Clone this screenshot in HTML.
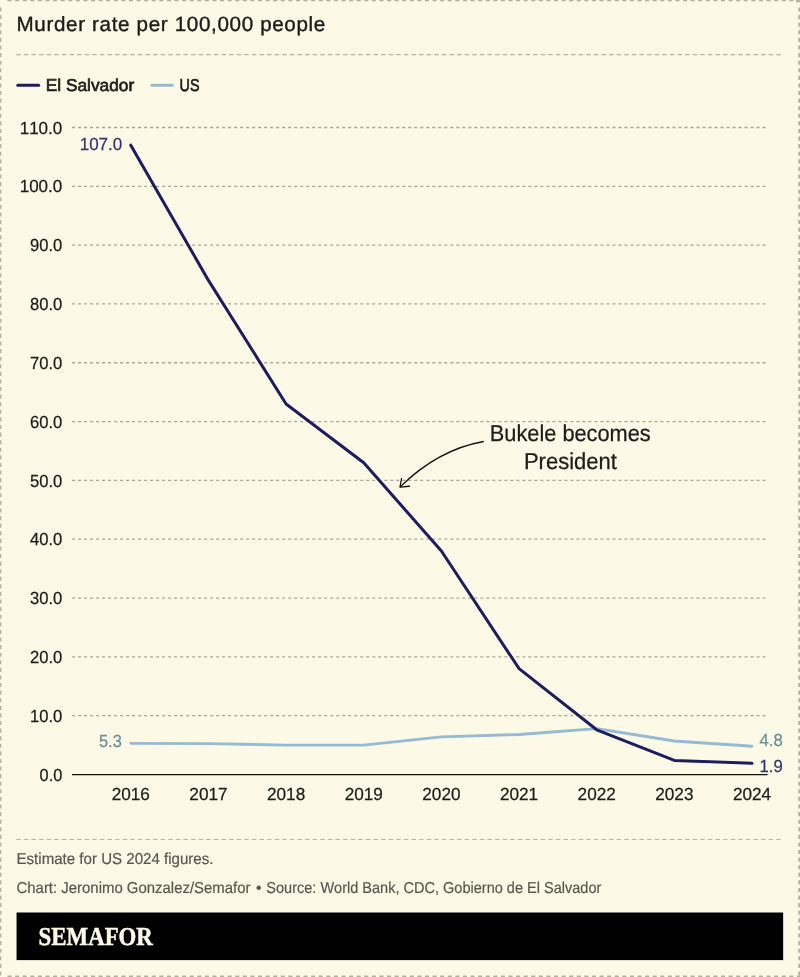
<!DOCTYPE html>
<html lang="en"><head><meta charset="utf-8"><title>Murder rate per 100,000 people</title>
<style>
html,body{margin:0;padding:0;background:#fcfae6;}
body{width:800px;height:977px;overflow:hidden;}
svg{display:block;}
text{font-family:"Liberation Sans",sans-serif;fill:#1c1c1a;font-kerning:none;text-rendering:geometricPrecision;}
.title{font-size:20.6px;letter-spacing:0.66px;stroke:#1c1c1a;stroke-width:0.4px;}
.tick{font-size:17.5px;stroke:#1c1c1a;stroke-width:0.25px;}
.lab{font-size:17.5px;stroke-width:0.25px;}
.foot{font-size:15.8px;fill:#58574f;stroke:#58574f;stroke-width:0.2px;}
.ann{font-size:23px;stroke:#1c1c1a;stroke-width:0.25px;}
.leg{font-size:17.2px;stroke:#1c1c1a;stroke-width:0.65px;}
.logo{font-family:"Liberation Serif",serif;font-weight:bold;font-size:25.8px;fill:#fcfae6;stroke:#fcfae6;stroke-width:0.5px;}
</style></head><body>
<svg width="800" height="977" viewBox="0 0 800 977">
<rect x="0" y="0" width="800" height="977" fill="#fcfae6"/>
<g stroke="#b2b09e" stroke-dasharray="4.1 3.49" fill="none">
<line x1="7.5" y1="0.6" x2="800" y2="0.6" stroke-width="1.25"/>
<line x1="0.65" y1="7.5" x2="0.65" y2="977" stroke-width="1.35"/>
<line x1="799.15" y1="7.5" x2="799.15" y2="977" stroke-width="1.7"/>
<line x1="796" y1="1.1" x2="800" y2="1.1" stroke-width="2.2" stroke-dasharray="none"/>
<line x1="7.5" y1="976.25" x2="800" y2="976.25" stroke-width="1.5"/>
</g>
<text class="title" x="16.5" y="31">Murder rate per 100,000 people</text>
<line x1="16.25" y1="54.6" x2="783.75" y2="54.6" stroke="#b6b4a3" stroke-width="1.2" stroke-dasharray="4.5 3.1"/>
<line x1="17.8" y1="85.3" x2="38.7" y2="85.3" stroke="#1c1d5e" stroke-width="3.1" stroke-linecap="round"/>
<text class="leg" x="45.7" y="91" textLength="88.5" lengthAdjust="spacingAndGlyphs">El Salvador</text>
<line x1="152" y1="85.3" x2="172.3" y2="85.3" stroke="#95bad2" stroke-width="3.1" stroke-linecap="round"/>
<text class="leg" x="179.6" y="91" textLength="20" lengthAdjust="spacingAndGlyphs">US</text>

<line x1="72" y1="715.68" x2="765.6" y2="715.68" stroke="#a8a695" stroke-width="1.3" stroke-dasharray="3 3.005"/>
<line x1="72" y1="656.86" x2="765.6" y2="656.86" stroke="#a8a695" stroke-width="1.3" stroke-dasharray="3 3.005"/>
<line x1="72" y1="598.04" x2="765.6" y2="598.04" stroke="#a8a695" stroke-width="1.3" stroke-dasharray="3 3.005"/>
<line x1="72" y1="539.22" x2="765.6" y2="539.22" stroke="#a8a695" stroke-width="1.3" stroke-dasharray="3 3.005"/>
<line x1="72" y1="480.40" x2="765.6" y2="480.40" stroke="#a8a695" stroke-width="1.3" stroke-dasharray="3 3.005"/>
<line x1="72" y1="421.58" x2="765.6" y2="421.58" stroke="#a8a695" stroke-width="1.3" stroke-dasharray="3 3.005"/>
<line x1="72" y1="362.76" x2="765.6" y2="362.76" stroke="#a8a695" stroke-width="1.3" stroke-dasharray="3 3.005"/>
<line x1="72" y1="303.94" x2="765.6" y2="303.94" stroke="#a8a695" stroke-width="1.3" stroke-dasharray="3 3.005"/>
<line x1="72" y1="245.12" x2="765.6" y2="245.12" stroke="#a8a695" stroke-width="1.3" stroke-dasharray="3 3.005"/>
<line x1="72" y1="186.30" x2="765.6" y2="186.30" stroke="#a8a695" stroke-width="1.3" stroke-dasharray="3 3.005"/>
<line x1="72" y1="127.48" x2="765.6" y2="127.48" stroke="#a8a695" stroke-width="1.3" stroke-dasharray="3 3.005"/>
<text class="tick" x="62.3" y="781" text-anchor="end" textLength="22.7" lengthAdjust="spacingAndGlyphs">0.0</text>
<text class="tick" x="62.3" y="722" text-anchor="end" textLength="32.3" lengthAdjust="spacingAndGlyphs">10.0</text>
<text class="tick" x="62.3" y="663" text-anchor="end" textLength="32.3" lengthAdjust="spacingAndGlyphs">20.0</text>
<text class="tick" x="62.3" y="604" text-anchor="end" textLength="32.3" lengthAdjust="spacingAndGlyphs">30.0</text>
<text class="tick" x="62.3" y="545" text-anchor="end" textLength="32.3" lengthAdjust="spacingAndGlyphs">40.0</text>
<text class="tick" x="62.3" y="487" text-anchor="end" textLength="32.3" lengthAdjust="spacingAndGlyphs">50.0</text>
<text class="tick" x="62.3" y="428" text-anchor="end" textLength="32.3" lengthAdjust="spacingAndGlyphs">60.0</text>
<text class="tick" x="62.3" y="369" text-anchor="end" textLength="32.3" lengthAdjust="spacingAndGlyphs">70.0</text>
<text class="tick" x="62.3" y="310" text-anchor="end" textLength="32.3" lengthAdjust="spacingAndGlyphs">80.0</text>
<text class="tick" x="62.3" y="251" text-anchor="end" textLength="32.3" lengthAdjust="spacingAndGlyphs">90.0</text>
<text class="tick" x="62.3" y="192" text-anchor="end" textLength="42.6" lengthAdjust="spacingAndGlyphs">100.0</text>
<text class="tick" x="62.3" y="134" text-anchor="end" textLength="42.6" lengthAdjust="spacingAndGlyphs">110.0</text>
<line x1="72" y1="774.5" x2="767.5" y2="774.5" stroke="#111" stroke-width="1.25"/>
<text class="tick" x="130.80" y="800" text-anchor="middle" textLength="38.2" lengthAdjust="spacingAndGlyphs">2016</text>
<text class="tick" x="208.45" y="800" text-anchor="middle" textLength="38.2" lengthAdjust="spacingAndGlyphs">2017</text>
<text class="tick" x="286.10" y="800" text-anchor="middle" textLength="38.2" lengthAdjust="spacingAndGlyphs">2018</text>
<text class="tick" x="363.75" y="800" text-anchor="middle" textLength="38.2" lengthAdjust="spacingAndGlyphs">2019</text>
<text class="tick" x="441.40" y="800" text-anchor="middle" textLength="38.2" lengthAdjust="spacingAndGlyphs">2020</text>
<text class="tick" x="519.05" y="800" text-anchor="middle" textLength="38.2" lengthAdjust="spacingAndGlyphs">2021</text>
<text class="tick" x="596.70" y="800" text-anchor="middle" textLength="38.2" lengthAdjust="spacingAndGlyphs">2022</text>
<text class="tick" x="674.35" y="800" text-anchor="middle" textLength="38.2" lengthAdjust="spacingAndGlyphs">2023</text>
<text class="tick" x="752.00" y="800" text-anchor="middle" textLength="38.2" lengthAdjust="spacingAndGlyphs">2024</text>
<polyline points="130.80,743.33 208.45,743.62 286.10,745.09 363.75,745.09 441.40,736.86 519.05,734.50 596.70,728.62 674.35,740.97 752.00,746.27" fill="none" stroke="#95bad2" stroke-width="2.9" stroke-linecap="round" stroke-linejoin="round"/>
<polyline points="130.80,145.13 208.45,280.41 286.10,403.93 363.75,462.75 441.40,550.98 519.05,668.62 596.70,729.80 674.35,760.38 752.00,763.32" fill="none" stroke="#1c1d5e" stroke-width="3" stroke-linecap="round" stroke-linejoin="round"/>
<text class="lab" x="122.3" y="150" text-anchor="end" textLength="42.6" lengthAdjust="spacingAndGlyphs" style="fill:#33366e;stroke:#33366e">107.0</text>
<text class="lab" x="121.8" y="747" text-anchor="end" textLength="22.8" lengthAdjust="spacingAndGlyphs" style="fill:#69909a;stroke:#69909a">5.3</text>
<text class="lab" x="759.5" y="746" textLength="23.2" lengthAdjust="spacingAndGlyphs" style="fill:#69909a;stroke:#69909a">4.8</text>
<text class="lab" x="759.5" y="772" textLength="23.2" lengthAdjust="spacingAndGlyphs" style="fill:#33366e;stroke:#33366e">1.9</text>
<text class="ann" x="570.25" y="441" text-anchor="middle" textLength="161" lengthAdjust="spacingAndGlyphs">Bukele becomes</text>
<text class="ann" x="570.4" y="469" text-anchor="middle" textLength="93" lengthAdjust="spacingAndGlyphs">President</text>
<path d="M483.75 441.5 Q 438 449.5 400 487.1" fill="none" stroke="#111" stroke-width="1.3"/>
<path d="M401.5 478.75 L400 487.1 L409.4 486.25" fill="none" stroke="#111" stroke-width="1.3" stroke-linecap="round" stroke-linejoin="round"/>
<line x1="16.25" y1="839.5" x2="783.75" y2="839.5" stroke="#b6b4a3" stroke-width="1.2" stroke-dasharray="4.5 3.1"/>
<text class="foot" x="16.5" y="864" textLength="197" lengthAdjust="spacingAndGlyphs">Estimate for US 2024 figures.</text>
<text class="foot" y="893"><tspan x="16.5" textLength="234" lengthAdjust="spacingAndGlyphs">Chart: Jeronimo Gonzalez/Semafor</tspan> <tspan x="256">•</tspan> <tspan x="266.3" textLength="335" lengthAdjust="spacingAndGlyphs">Source: World Bank, CDC, Gobierno de El Salvador</tspan></text>
<rect x="16.55" y="912.5" width="766.6" height="47.6" fill="#000"/>
<text class="logo" x="38.6" y="945" textLength="114.3" lengthAdjust="spacingAndGlyphs">SEMAFOR</text>
</svg></body></html>
